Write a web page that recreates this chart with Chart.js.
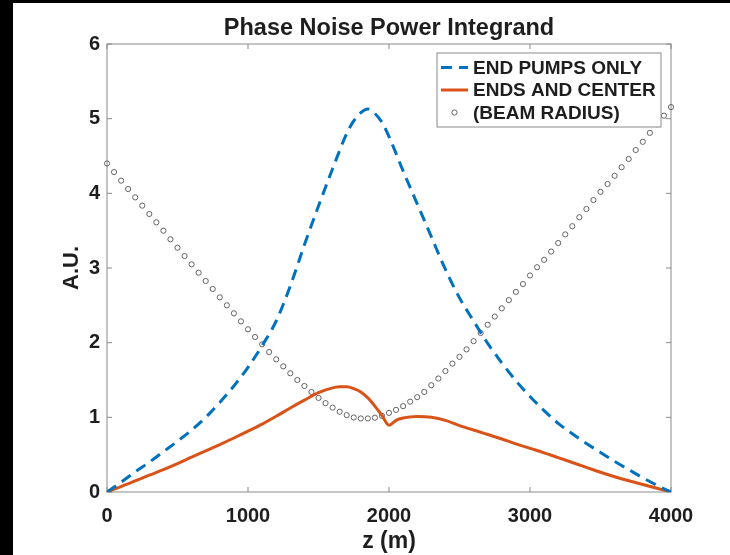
<!DOCTYPE html>
<html>
<head>
<meta charset="utf-8">
<script src="https://cdn.jsdelivr.net/npm/chart.js@4.4.1/dist/chart.umd.min.js"></script>
<style>
  html, body { margin: 0; padding: 0; background: #000; }
  #frame { position: absolute; left: 13px; top: 3px; width: 717px; height: 552px; background: #fff; }
</style>
</head>
<body>
<div id="frame"><canvas id="chart" width="717" height="552"></canvas></div>
<script>
// values
const chartTitle = 'Phase Noise Power Integrand';
const seriesLabels = ['END PUMPS ONLY', 'ENDS AND CENTER', '(BEAM RADIUS)'];

const zPumps = [0, 100, 200, 300, 400, 500, 600, 700, 800, 900, 1000, 1100, 1200, 1300, 1400, 1500, 1600, 1700, 1750, 1800, 1850, 1900, 1950, 2000, 2100, 2200, 2300, 2400, 2500, 2600, 2700, 2800, 2900, 3000, 3100, 3200, 3300, 3400, 3500, 3600, 3700, 3800, 3900, 4000];
const pumpsOnly = [0, 0.13, 0.27, 0.40, 0.54, 0.68, 0.83, 1.00, 1.20, 1.42, 1.67, 1.96, 2.29, 2.76, 3.31, 3.83, 4.33, 4.80, 4.97, 5.08, 5.13, 5.07, 4.95, 4.76, 4.30, 3.86, 3.42, 2.98, 2.60, 2.29, 1.99, 1.73, 1.49, 1.28, 1.09, 0.92, 0.78, 0.65, 0.53, 0.41, 0.30, 0.19, 0.09, 0];

const zCenter = [0, 100, 200, 300, 400, 500, 600, 700, 800, 900, 1000, 1100, 1200, 1300, 1400, 1500, 1600, 1650, 1700, 1750, 1800, 1850, 1900, 1950, 2000, 2050, 2100, 2200, 2300, 2400, 2500, 2600, 2700, 2800, 2900, 3000, 3100, 3200, 3300, 3400, 3500, 3600, 3700, 3800, 3900, 4000];
const endsCenter = [0, 0.072, 0.148, 0.225, 0.30, 0.38, 0.466, 0.55, 0.635, 0.723, 0.815, 0.91, 1.015, 1.125, 1.23, 1.33, 1.395, 1.408, 1.41, 1.385, 1.34, 1.26, 1.15, 1.025, 0.895, 0.96, 0.99, 1.01, 1.00, 0.96, 0.89, 0.83, 0.77, 0.71, 0.645, 0.585, 0.525, 0.46, 0.395, 0.33, 0.265, 0.205, 0.15, 0.10, 0.05, 0];

const zBeam = [0, 50, 100, 150, 200, 250, 300, 350, 400, 450, 500, 550, 600, 650, 700, 750, 800, 850, 900, 950, 1000, 1050, 1100, 1150, 1200, 1250, 1300, 1350, 1400, 1450, 1500, 1550, 1600, 1650, 1700, 1750, 1800, 1850, 1900, 1950, 2000, 2050, 2100, 2150, 2200, 2250, 2300, 2350, 2400, 2450, 2500, 2550, 2600, 2650, 2700, 2750, 2800, 2850, 2900, 2950, 3000, 3050, 3100, 3150, 3200, 3250, 3300, 3350, 3400, 3450, 3500, 3550, 3600, 3650, 3700, 3750, 3800, 3850, 3900, 3950, 4000];
const beamRadius = [4.40, 4.285, 4.17, 4.058, 3.946, 3.835, 3.723, 3.612, 3.50, 3.385, 3.272, 3.16, 3.049, 2.937, 2.826, 2.719, 2.607, 2.50, 2.393, 2.286, 2.179, 2.076, 1.978, 1.875, 1.777, 1.683, 1.59, 1.50, 1.42, 1.34, 1.26, 1.19, 1.13, 1.075, 1.03, 0.998, 0.985, 0.985, 0.995, 1.02, 1.06, 1.10, 1.15, 1.21, 1.27, 1.34, 1.43, 1.52, 1.62, 1.72, 1.81, 1.91, 2.02, 2.13, 2.24, 2.35, 2.46, 2.57, 2.68, 2.785, 2.90, 3.01, 3.11, 3.22, 3.335, 3.45, 3.56, 3.68, 3.79, 3.91, 4.02, 4.125, 4.235, 4.35, 4.46, 4.58, 4.69, 4.81, 4.925, 5.04, 5.155];

const xTicks = [0, 1000, 2000, 3000, 4000];
const yTicks = [0, 1, 2, 3, 4, 5, 6];

const FONT = '"Liberation Sans", Arial, Helvetica, sans-serif';
const AXIS_GRAY = '#8a8a8a';
const TEXT = '#1e1e1e';

const toPoints = (xs, ys) => xs.map((x, i) => ({ x: x, y: ys[i] }));

// MATLAB-like box with inward ticks on all four sides, title centred over the axes
const axesBox = {
  id: 'axesBox',
  beforeDatasetsDraw(chart) {
    const { ctx, chartArea: a, scales } = chart;
    ctx.save();
    ctx.strokeStyle = AXIS_GRAY;
    ctx.lineWidth = 1;
    ctx.strokeRect(a.left, a.top, a.right - a.left, a.bottom - a.top);
    ctx.beginPath();
    xTicks.forEach(v => {
      const px = scales.x.getPixelForValue(v);
      ctx.moveTo(px, a.bottom); ctx.lineTo(px, a.bottom - 5);
      ctx.moveTo(px, a.top); ctx.lineTo(px, a.top + 5);
    });
    yTicks.forEach(v => {
      const py = scales.y.getPixelForValue(v);
      ctx.moveTo(a.left, py); ctx.lineTo(a.left + 5, py);
      ctx.moveTo(a.right, py); ctx.lineTo(a.right - 5, py);
    });
    ctx.stroke();

    ctx.fillStyle = TEXT;
    ctx.font = 'bold 23.5px ' + FONT;
    ctx.textAlign = 'center';
    ctx.textBaseline = 'alphabetic';
    ctx.fillText(chartTitle, (a.left + a.right) / 2, a.top - 9);
    ctx.restore();
  }
};

// boxed legend inside the top right corner
const boxLegend = {
  id: 'boxLegend',
  afterDatasetsDraw(chart) {
    const { ctx, chartArea: a } = chart;
    const w = 224, h = 74;
    const left = a.right - 10 - w, top = a.top + 9;
    ctx.save();
    ctx.fillStyle = '#fff';
    ctx.fillRect(left, top, w, h);
    ctx.strokeStyle = AXIS_GRAY;
    ctx.lineWidth = 1;
    ctx.strokeRect(left, top, w, h);
    ctx.font = 'bold 19px ' + FONT;
    ctx.textBaseline = 'middle';
    ctx.textAlign = 'left';
    chart.data.datasets.forEach((ds, i) => {
      const cy = top + 14.5 + i * 22.5;
      if (ds.showLine === false) {
        ctx.beginPath();
        ctx.arc(left + 17.5, cy, ds.pointRadius, 0, Math.PI * 2);
        ctx.strokeStyle = ds.borderColor;
        ctx.lineWidth = ds.pointBorderWidth;
        ctx.stroke();
      } else {
        ctx.beginPath();
        ctx.setLineDash(ds.borderDash || []);
        ctx.strokeStyle = ds.borderColor;
        ctx.lineWidth = ds.borderWidth;
        ctx.moveTo(left + 4, cy);
        ctx.lineTo(left + 31, cy);
        ctx.stroke();
        ctx.setLineDash([]);
      }
      ctx.fillStyle = TEXT;
      ctx.fillText(ds.label, left + 36, cy + 1);
    });
    ctx.restore();
  }
};

new Chart(document.getElementById('chart').getContext('2d'), {
  type: 'line',
  data: {
    datasets: [
      {
        label: seriesLabels[0],
        data: toPoints(zPumps, pumpsOnly),
        borderColor: '#0072BD',
        borderWidth: 3,
        borderDash: [11, 7],
        pointRadius: 0,
        cubicInterpolationMode: 'monotone',
        fill: false,
      },
      {
        label: seriesLabels[1],
        data: toPoints(zCenter, endsCenter),
        borderColor: '#D95319',
        borderWidth: 3,
        pointRadius: 0,
        cubicInterpolationMode: 'monotone',
        fill: false,
      },
      {
        label: seriesLabels[2],
        data: toPoints(zBeam, beamRadius),
        showLine: false,
        borderColor: '#555555',
        backgroundColor: 'rgba(0,0,0,0)',
        pointRadius: 2.6,
        pointBorderWidth: 0.9,
        pointStyle: 'circle',
        clip: false,
      },
    ],
  },
  options: {
    responsive: false,
    animation: false,
    layout: { padding: { left: 0, right: 59, top: 41, bottom: 0 } },
    plugins: {
      legend: { display: false },
      tooltip: { enabled: false },
      title: { display: false },
    },
    scales: {
      x: {
        type: 'linear',
        min: 0,
        max: 4000,
        afterBuildTicks: s => { s.ticks = xTicks.map(v => ({ value: v })); },
        afterFit: s => { s.height = 63; },
        grid: { display: false, drawTicks: false },
        border: { display: false },
        ticks: {
          color: TEXT,
          padding: 12,
          maxRotation: 0,
          font: { family: FONT, size: 20, weight: 'bold' },
          callback: v => String(v),
        },
        title: {
          display: true,
          text: 'z (m)',
          color: TEXT,
          font: { family: FONT, size: 23, weight: 'bold' },
          padding: { top: 0, bottom: 0 },
        },
      },
      y: {
        type: 'linear',
        min: 0,
        max: 6,
        afterBuildTicks: s => { s.ticks = yTicks.map(v => ({ value: v })); },
        afterFit: s => { s.width = 94; },
        grid: { display: false, drawTicks: false },
        border: { display: false },
        ticks: {
          color: TEXT,
          padding: 7,
          font: { family: FONT, size: 20, weight: 'bold' },
          callback: v => String(v),
        },
        title: {
          display: true,
          text: 'A.U.',
          color: TEXT,
          font: { family: FONT, size: 22, weight: 'bold' },
          padding: { top: 46, bottom: 0 },
        },
      },
    },
  },
  plugins: [axesBox, boxLegend],
});
</script>
</body>
</html>
